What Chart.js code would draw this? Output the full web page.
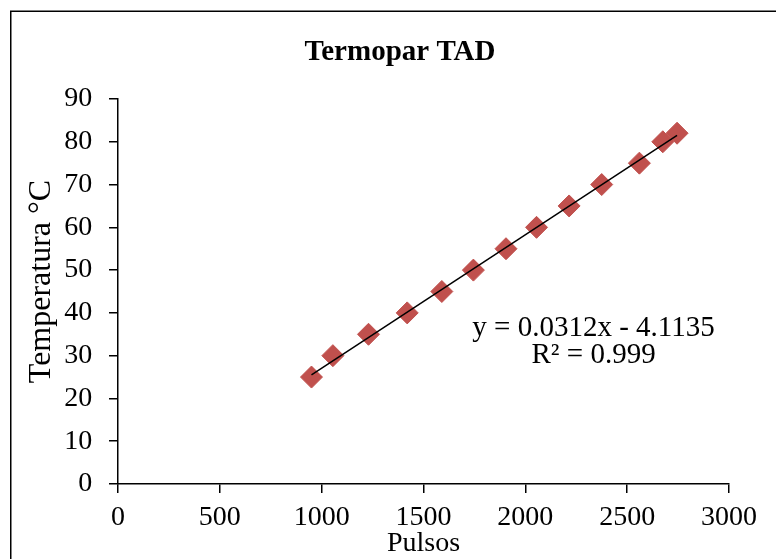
<!DOCTYPE html>
<html>
<head>
<meta charset="utf-8">
<title>Termopar TAD</title>
<script src="https://cdn.jsdelivr.net/npm/chart.js@4.4.0/dist/chart.umd.min.js"></script>
<style>
  body { margin: 0; background: #fff; }
</style>
</head>
<body>
<canvas id="grafico" width="776" height="559"></canvas>
<script>
const pulsos = [950, 1055, 1230, 1420, 1590, 1745, 1905, 2055, 2215, 2375, 2560, 2675, 2745];
const temperatura = [25, 30, 35, 40, 45, 50, 55, 60, 65, 70, 75, 80, 82];
// extremos de la linea de tendencia
const tendenciaX = [950, 2745];
const tendenciaY = [25.5, 81.5];
const ecuacion = ["y = 0.0312x - 4.1135", "R² = 0.999"];
const ticksX = [0, 500, 1000, 1500, 2000, 2500, 3000];
const ticksY = [0, 10, 20, 30, 40, 50, 60, 70, 80, 90];

const fuente = "'Liberation Serif', 'Times New Roman', serif";
const canvas = document.getElementById("grafico");

// marco, titulo del eje y y la ecuacion de la recta
const textosExtra = {
  id: "textosExtra",
  afterLayout(chart) {
    // el eje y ocupa desde el borde para que no se recorten sus etiquetas
    chart.scales.y.left = 0;
  },
  afterDraw(chart) {
    const { ctx, chartArea, scales } = chart;
    ctx.save();
    ctx.strokeStyle = "#000";
    ctx.lineWidth = 1.5;
    ctx.strokeRect(10.75, 11.25, 800, 600);

    ctx.fillStyle = "#000";
    ctx.font = `32px ${fuente}`;
    ctx.textAlign = "center";
    ctx.textBaseline = "middle";
    ctx.save();
    ctx.translate(42, (chartArea.top + chartArea.bottom) / 2 - 10);
    ctx.rotate(-Math.PI / 2);
    ctx.fillText("Temperatura °C", 0, 0);
    ctx.restore();

    ctx.font = `29px ${fuente}`;
    const x = scales.x.getPixelForValue(2335);
    ctx.fillText(ecuacion[0], x, scales.y.getPixelForValue(36.3));
    ctx.fillText(ecuacion[1], x, scales.y.getPixelForValue(30.1));
    ctx.restore();
  }
};

const puntos = pulsos.map((p, i) => ({ x: p, y: temperatura[i] }));
const tendencia = tendenciaX.map((p, i) => ({ x: p, y: tendenciaY[i] }));

new Chart(canvas, {
  type: "scatter",
  data: {
    datasets: [
      {
        label: "Tendencia",
        data: tendencia,
        showLine: true,
        borderColor: "#000",
        borderWidth: 1.5,
        pointRadius: 0,
        fill: false
      },
      {
        label: "Termopar TAD",
        data: puntos,
        pointStyle: "rectRot",
        pointRadius: 11,
        pointBackgroundColor: "#C0504D",
        pointBorderColor: "#C0504D",
        pointBorderWidth: 1
      }
    ]
  },
  plugins: [textosExtra],
  options: {
    responsive: false,
    animation: false,
    layout: { padding: { left: 71, right: 47, top: 0, bottom: 0 } },
    plugins: {
      legend: { display: false },
      tooltip: { enabled: false },
      title: {
        display: true,
        text: "Termopar TAD",
        color: "#000",
        font: { family: fuente, size: 29, weight: "bold", lineHeight: 1.2 },
        padding: { top: 35.5, bottom: 28.7 }
      }
    },
    scales: {
      x: {
        type: "linear",
        min: 0,
        max: 3000,
        afterBuildTicks: (s) => { s.ticks = ticksX.map((v) => ({ value: v })); },
        afterFit: (s) => { s.height = 75; },
        grid: { drawOnChartArea: false, drawTicks: true, tickLength: 9, color: "#000", lineWidth: 1.5 },
        border: { color: "#000", width: 1.5 },
        ticks: {
          color: "#000",
          padding: 7.5,
          font: { family: fuente, size: 28 },
          callback: (v) => String(v)
        },
        title: {
          display: true,
          text: "Pulsos",
          color: "#000",
          font: { family: fuente, size: 28, lineHeight: 1 },
          padding: { top: 0, bottom: 1.7 }
        }
      },
      y: {
        type: "linear",
        min: 0,
        max: 90,
        afterBuildTicks: (s) => { s.ticks = ticksY.map((v) => ({ value: v })); },
        afterFit: (s) => { s.width = 47; },
        grid: { drawOnChartArea: false, drawTicks: true, tickLength: 9, color: "#000", lineWidth: 1.5 },
        border: { color: "#000", width: 1.5 },
        ticks: {
          color: "#000",
          padding: 16.7,
          font: { family: fuente, size: 28 },
          callback: (v) => String(v)
        }
      }
    }
  }
});
</script>
</body>
</html>
